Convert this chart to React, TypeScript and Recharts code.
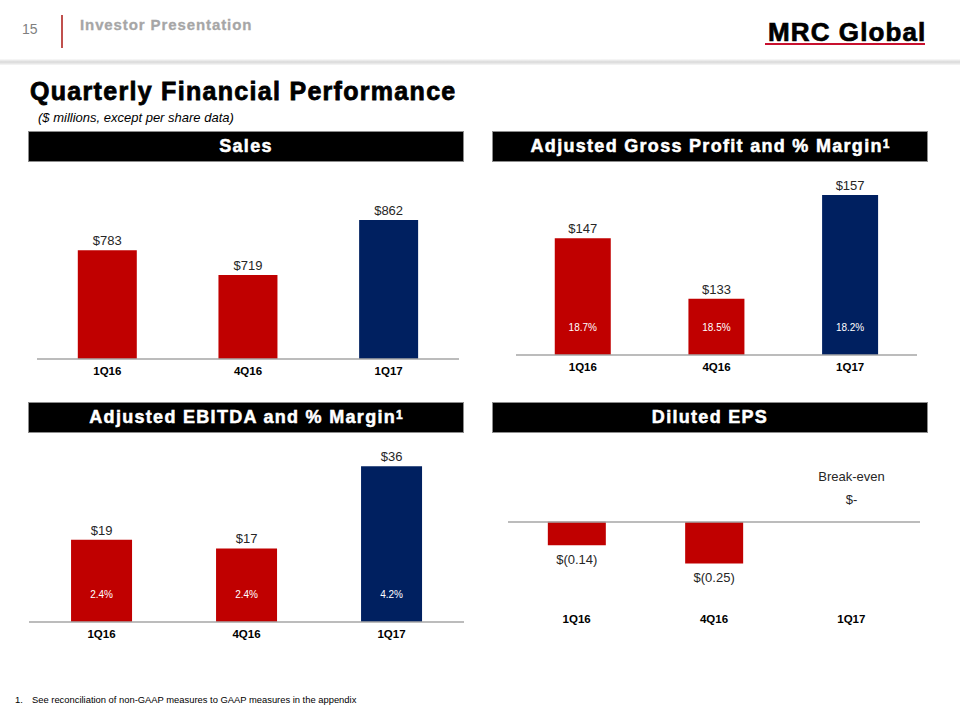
import React from 'react';
import { BarChart, Bar, XAxis, YAxis, Cell, LabelList, ReferenceLine } from 'recharts';

// chart data
const quarters = ['1Q16', '4Q16', '1Q17'];
const salesValues = [783, 719, 862];
const grossProfitValues = [147, 133, 157];
const grossMargins = [18.7, 18.5, 18.2];
const ebitdaValues = [19, 17, 36];
const ebitdaMargins = [2.4, 2.4, 4.2];
const epsValues = [-0.14, -0.25, 0];

const RED = '#C00000';
const NAVY = '#002060';
const FONT = '"Liberation Sans", Arial, sans-serif';

const salesData = quarters.map((q, i) => ({ quarter: q, value: salesValues[i] }));
const grossData = quarters.map((q, i) => ({ quarter: q, value: grossProfitValues[i], margin: grossMargins[i] }));
const ebitdaData = quarters.map((q, i) => ({ quarter: q, value: ebitdaValues[i], margin: ebitdaMargins[i] }));
const epsData = quarters.map((q, i) => ({ quarter: q, value: epsValues[i] }));

// last quarter is highlighted in navy
const colorFor = (i: number, n: number) => (i === n - 1 ? NAVY : RED);

const tickStyle = { fontSize: 11.5, fontWeight: 'bold', fill: '#000', fontFamily: FONT };
const axisLineStyle = { stroke: '#A6A6A6', strokeWidth: 1.5 };
const valueLabelStyle = { fontSize: 13, fill: '#262626', fontFamily: FONT };
// heavy "Arial Black"-like look for headings
const heavy = { fontWeight: 'bold' as const, WebkitTextStroke: '0.5px currentColor' };

const dollars = (v: any) => `$${v}`;

// percent margin written near the foot of each bar
const marginLabel = (props: any) => {
	const { x, y, width, height, value } = props;
	const bottom = Math.max(y, y + height);
	return (
		<text
			x={x + width / 2}
			y={bottom - 28}
			textAnchor='middle'
			dominantBaseline='central'
			fill='#fff'
			fontSize={10}
			fontFamily={FONT}>
			{`${value.toFixed(1)}%`}
		</text>
	);
};

const epsLabel = (props: any) => {
	const { x, y, width, height, value } = props;
	const cx = x + width / 2;
	if (value === 0) {
		const zeroY = Math.max(y, y + height);
		return (
			<g>
				<text x={cx} y={zeroY - 45} textAnchor='middle' dominantBaseline='central' {...valueLabelStyle}>
					Break-even
				</text>
				<text x={cx} y={zeroY - 22} textAnchor='middle' dominantBaseline='central' {...valueLabelStyle}>
					$-
				</text>
			</g>
		);
	}
	const bottom = Math.max(y, y + height);
	return (
		<text x={cx} y={bottom + 14} textAnchor='middle' dominantBaseline='central' {...valueLabelStyle}>
			{`$(${Math.abs(value).toFixed(2)})`}
		</text>
	);
};

const PanelHeader = ({ left, top, children }: { left: number; top: number; children: React.ReactNode }) => (
	<div
		style={{
			position: 'absolute',
			left,
			top,
			width: 436,
			height: 31,
			background: '#000',
			border: '1px solid #8c8c8c',
			boxSizing: 'border-box',
			color: '#fff',
			fontSize: 18,
			display: 'flex',
			alignItems: 'center',
			justifyContent: 'center',
			letterSpacing: 1.3,
			...heavy,
		}}>
		{children}
	</div>
);

const Sup = () => (
	<sup style={{ fontSize: 12, verticalAlign: 'top', lineHeight: 1, position: 'relative', top: -3, letterSpacing: 0 }}>1</sup>
);

const App = () => {
	return (
		<div
			style={{
				position: 'absolute',
				left: 0,
				top: 0,
				width: 960,
				height: 720,
				background: '#fff',
				fontFamily: FONT,
				overflow: 'hidden',
			}}>
			{/* slide header */}
			<div style={{ position: 'absolute', left: 22, top: 22, fontSize: 14, lineHeight: '14px', color: '#7f7f7f' }}>15</div>
			<div style={{ position: 'absolute', left: 61, top: 15, width: 1.5, height: 33, background: '#C0504D' }} />
			<div
				style={{
					position: 'absolute',
					left: 80,
					top: 17,
					fontSize: 15,
					lineHeight: '15px',
					color: '#A6A6A6',
					letterSpacing: 0.9,
					...heavy,
					WebkitTextStroke: '0.3px #A6A6A6',
				}}>
				Investor Presentation
			</div>
			<div
				style={{
					position: 'absolute',
					left: 0,
					top: 59,
					width: 960,
					height: 6,
					background: 'linear-gradient(to bottom, #fbfbfb, #d9d9d9 50%, #f7f7f7)',
				}}
			/>
			<div
				style={{
					position: 'absolute',
					left: 768,
					top: 19,
					fontSize: 26,
					lineHeight: '26px',
					color: '#000',
					letterSpacing: 1.1,
					...heavy,
					WebkitTextStroke: '0.7px #000',
				}}>
				MRC Global
			</div>
			<div style={{ position: 'absolute', left: 765, top: 43, width: 160, height: 2, background: '#C8102E' }} />

			{/* title */}
			<div
				style={{
					position: 'absolute',
					left: 30,
					top: 79,
					fontSize: 25,
					lineHeight: '25px',
					color: '#000',
					letterSpacing: 1.3,
					...heavy,
					WebkitTextStroke: '0.8px #000',
				}}>
				Quarterly Financial Performance
			</div>
			<div style={{ position: 'absolute', left: 38, top: 111, fontSize: 13, lineHeight: '13px', fontStyle: 'italic', color: '#000' }}>
				($ millions, except per share data)
			</div>

			<PanelHeader left={28} top={131}>Sales</PanelHeader>
			<PanelHeader left={492} top={131}>
				Adjusted Gross Profit and % Margin
				<Sup />
			</PanelHeader>
			<PanelHeader left={28} top={402}>
				Adjusted EBITDA and % Margin
				<Sup />
			</PanelHeader>
			<PanelHeader left={492} top={402}>Diluted EPS</PanelHeader>

			{/* Sales */}
			<div style={{ position: 'absolute', left: 0, top: 130 }}>
				<BarChart width={480} height={260} data={salesData} margin={{ top: 37, right: 21, bottom: 1, left: 37 }} barCategoryGap='29%'>
					<XAxis dataKey='quarter' height={30} tick={tickStyle} axisLine={axisLineStyle} tickLine={false} interval={0} />
					<YAxis hide domain={[500, 1000]} allowDataOverflow />
					<Bar dataKey='value' isAnimationActive={false}>
						{salesData.map((_, i) => (
							<Cell key={i} fill={colorFor(i, salesData.length)} />
						))}
						<LabelList dataKey='value' position='top' formatter={dollars} style={valueLabelStyle} />
					</Bar>
				</BarChart>
			</div>

			{/* Adjusted gross profit */}
			<div style={{ position: 'absolute', left: 480, top: 130 }}>
				<BarChart width={480} height={260} data={grossData} margin={{ top: 52, right: 43, bottom: 5, left: 36 }} barCategoryGap='29%'>
					<XAxis dataKey='quarter' height={30} tick={tickStyle} axisLine={axisLineStyle} tickLine={false} interval={0} />
					<YAxis hide domain={[120, 160]} allowDataOverflow />
					<Bar dataKey='value' isAnimationActive={false}>
						{grossData.map((_, i) => (
							<Cell key={i} fill={colorFor(i, grossData.length)} />
						))}
						<LabelList dataKey='value' position='top' formatter={dollars} style={valueLabelStyle} />
						<LabelList dataKey='margin' content={marginLabel} />
					</Bar>
				</BarChart>
			</div>

			{/* Adjusted EBITDA */}
			<div style={{ position: 'absolute', left: 0, top: 395 }}>
				<BarChart width={480} height={260} data={ebitdaData} margin={{ top: 54, right: 16, bottom: 3, left: 29 }} barCategoryGap='29%'>
					<XAxis dataKey='quarter' height={30} tick={tickStyle} axisLine={axisLineStyle} tickLine={false} interval={0} />
					<YAxis hide domain={[0, 40]} allowDataOverflow />
					<Bar dataKey='value' isAnimationActive={false}>
						{ebitdaData.map((_, i) => (
							<Cell key={i} fill={colorFor(i, ebitdaData.length)} />
						))}
						<LabelList dataKey='value' position='top' formatter={dollars} style={valueLabelStyle} />
						<LabelList dataKey='margin' content={marginLabel} />
					</Bar>
				</BarChart>
			</div>

			{/* Diluted EPS */}
			<div style={{ position: 'absolute', left: 480, top: 395 }}>
				<BarChart width={480} height={260} data={epsData} margin={{ top: 77, right: 40, bottom: 20, left: 28 }} barCategoryGap='29%'>
					<XAxis dataKey='quarter' height={30} tick={tickStyle} axisLine={false} tickLine={false} tickMargin={4} interval={0} />
					<YAxis hide domain={[-0.5, 0.3]} allowDataOverflow />
					<Bar dataKey='value' isAnimationActive={false} minPointSize={(v: number) => (v === 0 ? 1 : 0)}>
						{epsData.map((d, i) => (
							<Cell key={i} fill={d.value === 0 ? 'transparent' : RED} />
						))}
						<LabelList dataKey='value' content={epsLabel} />
					</Bar>
					<ReferenceLine y={0} stroke='#A6A6A6' strokeWidth={1.5} />
				</BarChart>
			</div>

			{/* footnote */}
			<div style={{ position: 'absolute', left: 15, top: 695, fontSize: 9.5, lineHeight: '10px', color: '#000' }}>1.</div>
			<div style={{ position: 'absolute', left: 32, top: 695, fontSize: 9.4, lineHeight: '10px', color: '#000' }}>
				See reconciliation of non-GAAP measures to GAAP measures in the appendix
			</div>
		</div>
	);
};

export default App;
